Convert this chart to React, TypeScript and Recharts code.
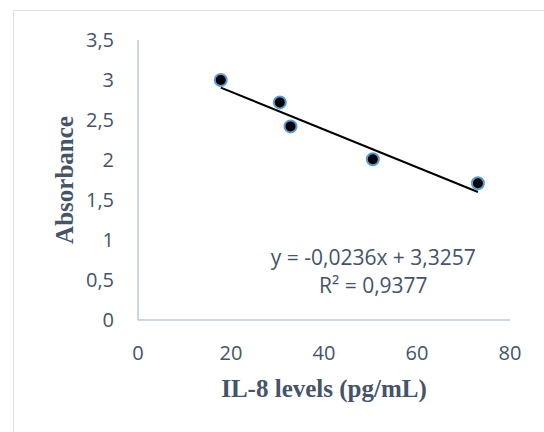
import { Label, ReferenceDot, Scatter, ScatterChart, XAxis, YAxis } from "recharts";

const ilLevels = [17.8, 30.5, 32.8, 50.5, 73.1];
const absorbance = [3.0, 2.72, 2.42, 2.01, 1.71];
const trendX = [17.8, 73.1];
const trendY = [2.905, 1.6];
const xTicks = [0, 20, 40, 60, 80];
const yTicks = [0, 0.5, 1, 1.5, 2, 2.5, 3, 3.5];
const equation = "y = -0,0236x + 3,3257";
const rSquared = "R² = 0,9377";

const points = ilLevels.map((x, i) => ({ x, y: absorbance[i] }));
const trend = trendX.map((x, i) => ({ x, y: trendY[i] }));

const textColor = "#44546A";
const axisColor = "#BCC6D8";
const tickStyle = { fill: textColor, fontSize: 20, fontFamily: "Open Sans" };
const titleStyle = {
  fill: textColor,
  fontSize: 25,
  fontWeight: 700,
  fontFamily: "Liberation Serif",
};

const fmt = (v: number) => String(v).replace(".", ",");

const Marker = (props: any) => (
  <circle cx={props.cx} cy={props.cy} r={6} fill="#000" stroke="#5B9BD5" strokeWidth={2} />
);

const EquationText = (props: any) => (
  <g fill={textColor} fontSize={21} fontFamily="Open Sans" textAnchor="middle">
    <text x={props.cx} y={props.cy} dominantBaseline="central">
      {equation}
    </text>
    <text x={props.cx} y={props.cy + 28} dominantBaseline="central">
      {rSquared}
    </text>
  </g>
);

export default function App() {
  return (
    <div
      style={{
        position: "absolute",
        left: 0,
        top: 0,
        width: 544,
        height: 432,
        overflow: "hidden",
        background: "#fff",
      }}
    >
      <div
        style={{
          position: "absolute",
          left: 13,
          top: 10,
          width: 600,
          height: 500,
          border: "1px solid #DCE0E8",
        }}
      />
      <div style={{ position: "absolute", left: 0, top: 0 }}>
        <ScatterChart width={544} height={432} margin={{ top: 40, right: 34, left: 0, bottom: 0 }}>
          <XAxis
            type="number"
            dataKey="x"
            domain={[0, 80]}
            ticks={xTicks}
            height={112}
            tick={tickStyle}
            tickLine={false}
            tickSize={0}
            tickMargin={26}
            axisLine={{ stroke: axisColor, strokeWidth: 1.5 }}
          >
            <Label
              content={(p: any) => (
                <text
                  x={p.viewBox.x + p.viewBox.width / 2}
                  y={p.viewBox.y + 77}
                  textAnchor="middle"
                  {...titleStyle}
                >
                  IL-8 levels (pg/mL)
                </text>
              )}
            />
          </XAxis>
          <YAxis
            type="number"
            dataKey="y"
            domain={[0, 3.5]}
            ticks={yTicks}
            width={138}
            tick={tickStyle}
            tickFormatter={fmt}
            tickLine={false}
            tickSize={0}
            tickMargin={24}
            axisLine={{ stroke: axisColor, strokeWidth: 1.5 }}
          >
            <Label
              content={(p: any) => {
                const cx = 73;
                const cy = p.viewBox.y + p.viewBox.height / 2;
                return (
                  <text
                    x={cx}
                    y={cy}
                    textAnchor="middle"
                    transform={`rotate(-90 ${cx} ${cy})`}
                    {...titleStyle}
                  >
                    Absorbance
                  </text>
                );
              }}
            />
          </YAxis>
          <Scatter
            data={trend}
            line={{ stroke: "#000", strokeWidth: 2 }}
            shape={() => <g />}
            isAnimationActive={false}
          />
          <Scatter data={points} shape={Marker} isAnimationActive={false} />
          <ReferenceDot x={50.6} y={0.79} r={0} shape={EquationText} />
        </ScatterChart>
      </div>
    </div>
  );
}
